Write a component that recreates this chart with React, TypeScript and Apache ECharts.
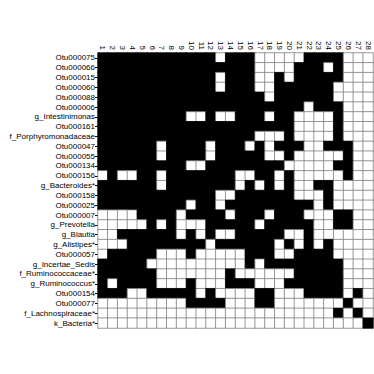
import React, { useEffect, useRef } from "react";
import * as echarts from "echarts";

const rowLabels = [
  "Otu000075", "Otu000066", "Otu000015", "Otu000060", "Otu000088", "Otu000006",
  "g_Intestinimonas", "Otu000161", "f_Porphyromonadaceae", "Otu000047", "Otu000055",
  "Otu000134", "Otu000156", "g_Bacteroides*", "Otu000158", "Otu000025", "Otu000007",
  "g_Prevotella", "g_Blautia", "g_Alistipes*", "Otu000057", "g_Incertae_Sedis",
  "f_Ruminococcaceae*", "g_Ruminococcus*", "Otu000154", "Otu000077",
  "f_Lachnospiraceae*", "k_Bacteria*",
];

const colLabels = [
  "1", "2", "3", "4", "5", "6", "7", "8", "9", "10", "11", "12", "13", "14",
  "15", "16", "17", "18", "19", "20", "21", "22", "23", "24", "25", "26", "27", "28",
];

// 1 = black (present), 0 = white
const matrixRows = [
  "1111111111110111000001111000",
  "1111111111111111000011101000",
  "1111111111110111001011111000",
  "1111111111110111001111110000",
  "1111111111111111101111110000",
  "1111111111111111111110111000",
  "1111111110010011101100001000",
  "1111111111111111111100001000",
  "1111111111111111000100001000",
  "1111110111101110101110011100",
  "1111110111101111100100000100",
  "1111111110011111111000001100",
  "0100110111111100110100000100",
  "1111110111111101010100110000",
  "1111111111110011111100010000",
  "1111111110110111111111010000",
  "0000111101111011101110001100",
  "0000010100011111011111001100",
  "0011111101010011111001000000",
  "0001111111101111110101010000",
  "0111110001000001110011110000",
  "1111100000000001011111111000",
  "1111110000000100000011111000",
  "1011110001000111000111111000",
  "1110011111010000110001111010",
  "0000000001111000110000000100",
  "0000000000000000000000001010",
  "0000000000000000000000000001",
];

export default function App() {
  const ref = useRef<HTMLDivElement>(null);
  useEffect(() => {
    if (!ref.current) return;
    const chart = echarts.init(ref.current, null, { renderer: "svg" });
    const data: any[] = [];
    matrixRows.forEach((row, r) => {
      row.split("").forEach((ch, c) => {
        const v = Number(ch);
        data.push({
          value: [c, r, v],
          itemStyle: { borderColor: v ? "#000000" : "#808080" },
        });
      });
    });
    const font = "Liberation Sans, Arial, sans-serif";
    chart.setOption({
      animation: false,
      grid: { left: 98, top: 53, width: 275, height: 275 },
      xAxis: {
        type: "category",
        position: "top",
        data: colLabels,
        axisLine: { show: false },
        axisTick: { show: false },
        splitLine: { show: false },
        axisLabel: {
          rotate: 90,
          interval: 0,
          fontSize: 8,
          color: "#000",
          margin: 3,
          fontFamily: font,
        },
      },
      yAxis: {
        type: "category",
        inverse: true,
        data: rowLabels,
        axisLine: { show: true, lineStyle: { color: "#000", width: 1 } },
        axisTick: { show: true, length: 3, alignWithLabel: true, lineStyle: { color: "#000" } },
        splitLine: { show: false },
        axisLabel: {
          interval: 0,
          fontSize: 8,
          color: "#000",
          margin: 3,
          fontFamily: font,
        },
      },
      visualMap: {
        type: "piecewise",
        show: false,
        dimension: 2,
        pieces: [
          { value: 0, color: "#ffffff" },
          { value: 1, color: "#000000" },
        ],
      },
      series: [
        {
          type: "heatmap",
          data,
          itemStyle: { borderWidth: 0.8 },
          emphasis: { disabled: true },
        },
      ],
    });
    return () => chart.dispose();
  }, []);
  return (
    <div
      ref={ref}
      style={{ position: "fixed", left: 0, top: 0, width: 374, height: 374, background: "#fff" }}
    />
  );
}
